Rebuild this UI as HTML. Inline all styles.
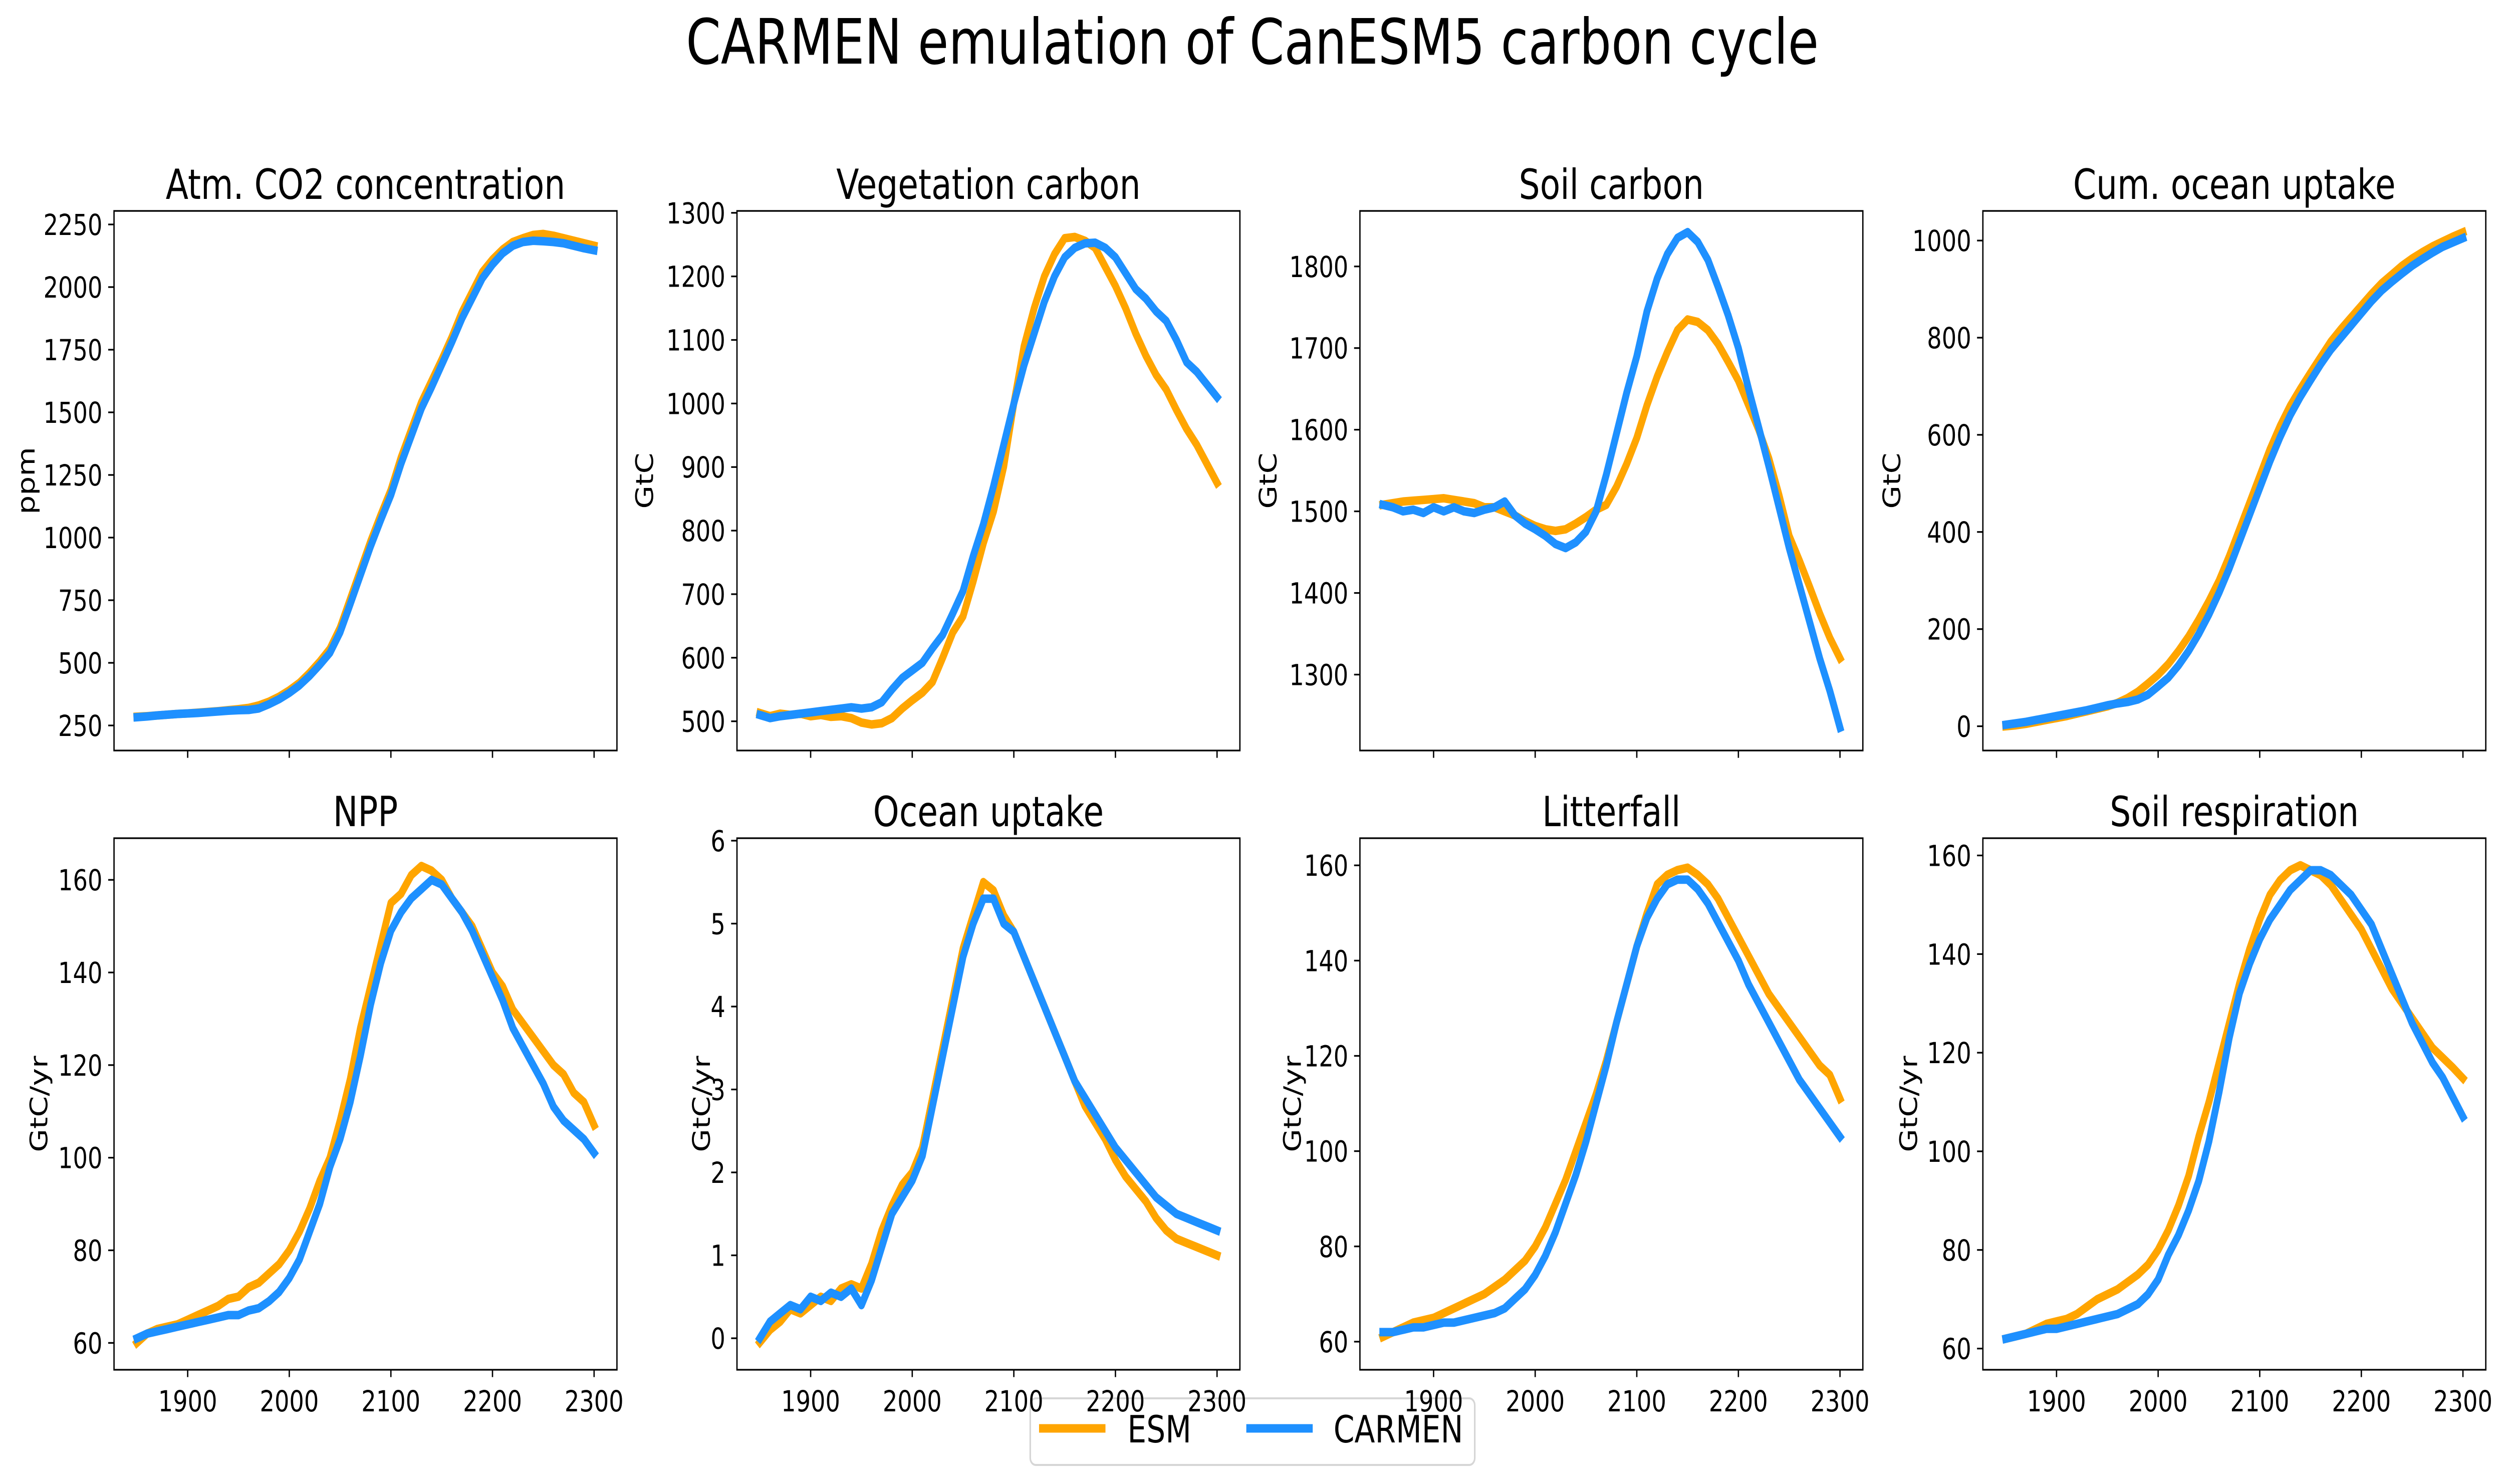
<!DOCTYPE html>
<html><head><meta charset="utf-8"><style>
html,body{margin:0;padding:0;background:#fff;width:100%;height:100%;overflow:hidden;}
svg{display:block;font-family:"DejaVu Sans","Liberation Sans",sans-serif;width:100vw;height:100vh;}
</style></head><body>
<svg id="fig" width="100%" height="100%" viewBox="0 0 6261 2962" preserveAspectRatio="none" xmlns="http://www.w3.org/2000/svg">
<rect width="6261" height="2962" fill="#fff"/>
<text x="3130" y="127" font-size="125" text-anchor="middle">CARMEN emulation of CanESM5 carbon cycle</text>
<g>
<rect x="2575" y="2791" width="1111" height="133" rx="14" fill="#fff" stroke="#d6d6d6" stroke-width="4"/>
<line x1="2597" y1="2851" x2="2763" y2="2851" stroke="#FFA500" stroke-width="17"/>
<text x="2818" y="2879" font-size="75">ESM</text>
<line x1="3115" y1="2851" x2="3281" y2="2851" stroke="#1E90FF" stroke-width="17"/>
<text x="3333" y="2879" font-size="75">CARMEN</text>
</g>
</svg>
<script>
const years = [];
for (let y = 1850; y <= 2300; y += 10) years.push(y);
const xTicks = [1900, 2000, 2100, 2200, 2300];

const titles = ["Atm. CO2 concentration","Vegetation carbon","Soil carbon","Cum. ocean uptake","NPP","Ocean uptake","Litterfall","Soil respiration"];
const units = ["ppm","GtC","GtC","GtC","GtC/yr","GtC/yr","GtC/yr","GtC/yr"];

const co2Esm = [285,287,290,293,296,298,301,304,307,311,315,320,330,345,365,390,420,460,505,556,640,755,870,985,1090,1190,1320,1430,1540,1625,1710,1800,1900,1980,2060,2110,2150,2180,2195,2208,2212,2205,2195,2185,2175,2165];
const co2Carmen = [283,286,290,293,296,298,300,303,306,309,311,312,318,335,355,380,410,448,492,540,622,735,850,965,1070,1170,1295,1405,1515,1600,1690,1780,1875,1955,2035,2090,2135,2165,2180,2185,2183,2180,2175,2165,2155,2147];
const vegEsm = [513,508,512,510,512,508,510,507,508,505,498,495,497,505,520,533,545,562,600,640,665,720,780,830,900,1000,1090,1150,1200,1235,1260,1262,1256,1245,1215,1185,1150,1110,1075,1045,1022,990,960,935,905,875];
const vegCarmen = [510,505,508,510,512,514,516,518,520,522,520,522,530,550,568,580,592,615,636,670,705,760,810,870,935,1000,1060,1110,1160,1200,1230,1245,1252,1253,1245,1230,1205,1180,1165,1145,1130,1100,1065,1050,1030,1010];
const soilEsm = [1508,1510,1512,1513,1514,1515,1516,1514,1512,1510,1505,1505,1500,1495,1488,1482,1478,1476,1478,1485,1493,1502,1508,1530,1558,1590,1630,1665,1695,1722,1735,1732,1722,1705,1683,1660,1630,1600,1565,1520,1470,1440,1408,1375,1345,1320];
const soilCarmen = [1508,1505,1500,1502,1498,1505,1500,1505,1500,1498,1502,1505,1512,1495,1485,1478,1470,1460,1455,1462,1475,1500,1545,1595,1645,1690,1745,1785,1815,1835,1842,1830,1808,1775,1740,1700,1650,1603,1555,1505,1455,1410,1365,1320,1280,1235];
const cumOceanEsm = [0,2,5,9,13,17,21,26,31,36,41,48,58,71,88,106,128,155,185,220,258,300,350,405,460,515,570,618,660,695,728,760,792,818,842,866,890,912,930,948,963,976,988,998,1008,1017];
const cumOceanCarmen = [3,6,9,13,17,21,25,29,33,38,43,47,50,55,65,82,100,125,155,190,230,275,325,380,435,490,545,595,640,678,712,745,775,800,825,850,875,897,915,932,948,962,975,987,996,1005];
const nppEsm = [60,62,63,63.5,64,65,66,67,68,69.5,70,72,73,75,77,80,84,89,95,100,108,117,128,137,146,155,157,161,163,162,160,156,153,150,145,140,137,132,129,126,123,120,118,114,112,107];
const nppCarmen = [61,62,62.5,63,63.5,64,64.5,65,65.5,66,66,67,67.5,69,71,74,78,84,90,98,104,112,122,133,142,149,153,156,158,160,159,156,153,149,144,139,134,128,124,120,116,111,108,106,104,101];
const oceanEsm = [-0.05,0.1,0.2,0.35,0.3,0.4,0.5,0.45,0.6,0.65,0.6,0.9,1.3,1.6,1.85,2.0,2.3,2.9,3.5,4.1,4.7,5.1,5.5,5.4,5.1,4.9,4.6,4.3,4.0,3.7,3.4,3.1,2.8,2.6,2.4,2.15,1.95,1.8,1.65,1.45,1.3,1.2,1.15,1.1,1.05,1.0];
const oceanCarmen = [0.0,0.2,0.3,0.4,0.35,0.5,0.45,0.55,0.5,0.6,0.4,0.7,1.1,1.5,1.7,1.9,2.2,2.8,3.4,4.0,4.6,5.0,5.3,5.3,5.0,4.9,4.6,4.3,4.0,3.7,3.4,3.1,2.9,2.7,2.5,2.3,2.15,2.0,1.85,1.7,1.6,1.5,1.45,1.4,1.35,1.3];
const litterEsm = [61,62,63,64,64.5,65,66,67,68,69,70,71.5,73,75,77,80,84,89,94,100,106,112,119,127,135,143,150,156,158,159,159.5,158,156,153,149,145,141,137,133,130,127,124,121,118,116,111];
const litterCarmen = [62,62,62.5,63,63,63.5,64,64,64.5,65,65.5,66,67,69,71,74,78,83,89,95,102,110,118,127,135,143,149,153,156,157,157,155,152,148,144,140,135,131,127,123,119,115,112,109,106,103];
const respEsm = [62,62.5,63,64,65,65.5,66,67,68.5,70,71,72,73.5,75,77,80,84,89,95,103,110,118,126,134,141,147,152,155,157,158,157,156,154,151,148,145,141,137,133,130,127,124,121,119,117,114.8];
const respCarmen = [62,62.5,63,63.5,64,64,64.5,65,65.5,66,66.5,67,68,69,71,74,79,83,88,94,102,112,123,132,138,143,147,150,153,155,157,157,156,154,152,149,146,141,136,131,126,122,118,115,111,107];

const esmSeries = [co2Esm, vegEsm, soilEsm, cumOceanEsm, nppEsm, oceanEsm, litterEsm, respEsm];
const carmenSeries = [co2Carmen, vegCarmen, soilCarmen, cumOceanCarmen, nppCarmen, oceanCarmen, litterCarmen, respCarmen];
const yTicks = [
  [250,500,750,1000,1250,1500,1750,2000,2250],
  [500,600,700,800,900,1000,1100,1200,1300],
  [1300,1400,1500,1600,1700,1800],
  [0,200,400,600,800,1000],
  [60,80,100,120,140,160],
  [0,1,2,3,4,5,6],
  [60,80,100,120,140,160],
  [60,80,100,120,140,160]
];
const yLims = [[150,2304],[454,1303],[1207,1868],[-50,1061],[54.2,169],[-0.38,6.03],[54.1,165.7],[55.7,163.5]];

const NS = "http://www.w3.org/2000/svg";
const svg = document.getElementById("fig");
const slug = ["co2","vegetation","soil","cum-ocean","npp","ocean-uptake","litterfall","soil-respiration"];
const ylabX = [66,1612,3170,4729,98,1754,3231,4771];
function mk(tag, attrs, parent){const e=document.createElementNS(NS,tag);for(const k in attrs)e.setAttribute(k,attrs[k]);(parent||svg).appendChild(e);return e;}

for (let p = 0; p < 8; p++) {
  const col = p % 4, row = Math.floor(p / 4);
  const L = 285 + col * 1557, W = 1257;
  const T = row === 0 ? 421 : 1673, H = row === 0 ? 1077 : 1061;
  const xs = v => L + (v - 1827.5) / (2322.5 - 1827.5) * W;
  const [y0, y1] = yLims[p];
  const ys = v => T + H - (v - y0) / (y1 - y0) * H;
  const g = mk("g", {});
  
  
  const clipId = "clip" + p;
  const cp = mk("clipPath", {id: clipId}, g);
  mk("rect", {x: L, y: T, width: W, height: H}, cp);
  [[esmSeries[p], "#FFA500", "esm"], [carmenSeries[p], "#1E90FF", "carmen"]].forEach(([arr, color, nm]) => {
    const d = arr.map((v, i) => (i ? "L" : "M") + xs(years[i]).toFixed(1) + " " + ys(v).toFixed(1)).join(" ");
    const path = mk("path", {d: d, fill: "none", stroke: color, "stroke-width": 17, "stroke-linejoin": "round", "stroke-linecap": "square", "clip-path": "url(#" + clipId + ")"}, g);
    
    
  });
  const frame = mk("rect", {x: L, y: T, width: W, height: H, fill: "none", stroke: "#000", "stroke-width": 3.3}, g);
  
  
  yTicks[p].forEach(t => {
    const y = ys(t);
    mk("line", {x1: L - 14.6, x2: L, y1: y, y2: y, stroke: "#000", "stroke-width": 3.3}, g);
    const tx = mk("text", {x: L - 29, y: y + 21, "font-size": 58, "text-anchor": "end"}, g);
    tx.textContent = String(t);
    
    
  });
  xTicks.forEach(t => {
    const x = xs(t);
    mk("line", {x1: x, x2: x, y1: T + H, y2: T + H + 14.6, stroke: "#000", "stroke-width": 3.3}, g);
    if (row === 1) {
      const tx = mk("text", {x: x, y: T + H + 29 + 54, "font-size": 58, "text-anchor": "middle"}, g);
      tx.textContent = String(t);
      
      
    }
  });
  const ti = mk("text", {x: L + W / 2, y: T - 24, "font-size": 83, "text-anchor": "middle"}, g);
  ti.textContent = titles[p];
  
  
  const cy = T + H / 2;
  const yl = mk("text", {x: ylabX[p], y: cy, "font-size": 60, "text-anchor": "middle", "dominant-baseline": "central", transform: "rotate(-90 " + ylabX[p] + " " + cy + ")"}, g);
  yl.textContent = units[p];
  
  
}
</script>
</body></html>
